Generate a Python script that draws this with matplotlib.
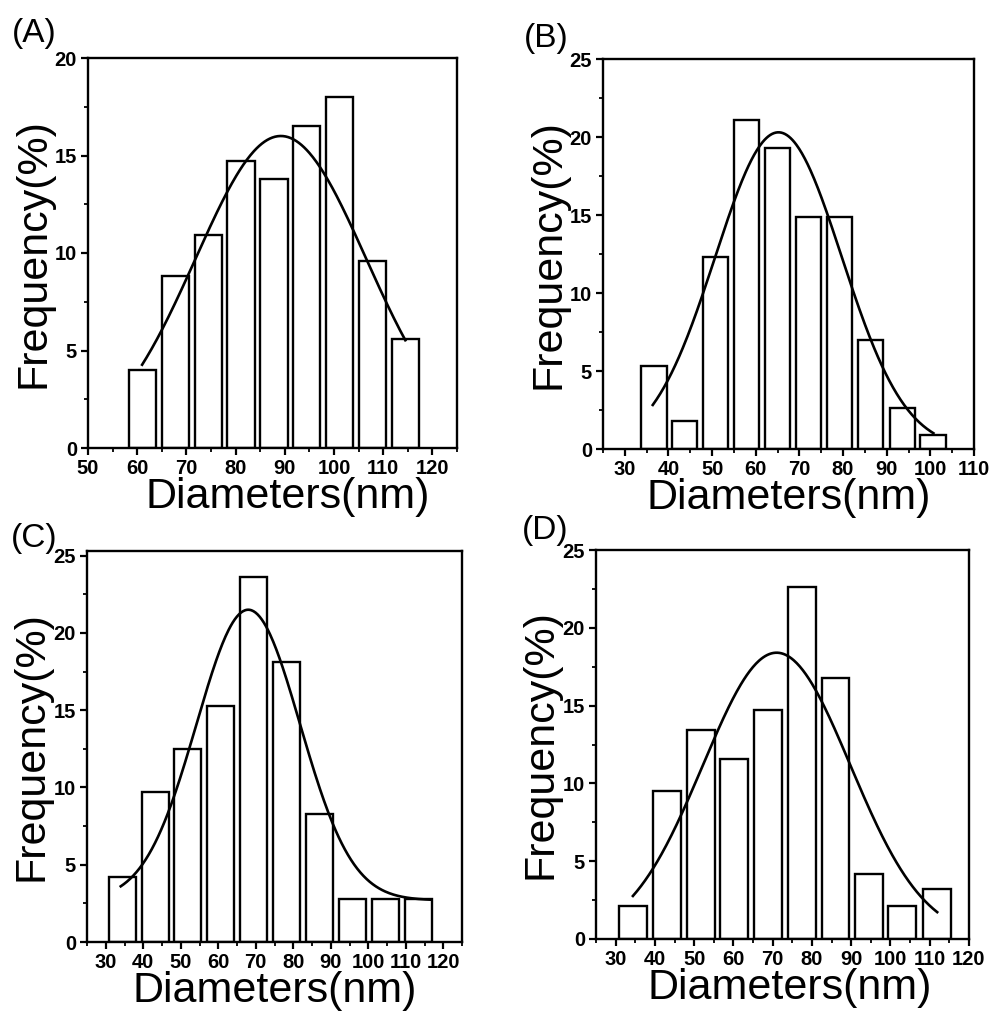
import numpy as np
import matplotlib
matplotlib.use("Agg")
import matplotlib.pyplot as plt
from matplotlib.ticker import MultipleLocator

plt.rcParams['font.family'] = ['Liberation Sans', 'DejaVu Sans']

# size distributions (bin centre in nm, frequency in %)
a_x = [61.0, 67.7, 74.4, 81.1, 87.8, 94.4, 101.1, 107.8, 114.5]
a_y = [4.0, 8.8, 10.9, 14.7, 13.8, 16.5, 18.0, 9.6, 5.6]

b_x = [36.6, 43.7, 50.8, 57.9, 65.0, 72.1, 79.2, 86.3, 93.6, 100.6]
b_y = [5.3, 1.8, 12.3, 21.1, 19.3, 14.9, 14.9, 7.0, 2.6, 0.9]

c_x = [34.4, 43.2, 51.9, 60.6, 69.5, 78.2, 87.0, 95.9, 104.6, 113.4]
c_y = [4.2, 9.7, 12.5, 15.3, 23.6, 18.1, 8.3, 2.8, 2.8, 2.8]

d_x = [34.4, 43.1, 51.7, 60.2, 68.7, 77.4, 86.0, 94.6, 103.0, 111.8]
d_y = [2.1, 9.5, 13.4, 11.6, 14.7, 22.6, 16.8, 4.2, 2.1, 3.2]

# gaussian fits: (centre, width, amplitude, baseline, x start, x end)
a_fit = (89.2, 17.35, 16.0, 0.0, 61.0, 114.5)
b_fit = (65.2, 14.5, 20.3, 0.0, 36.4, 100.7)
c_fit = (68.0, 13.8, 18.8, 2.7, 34.0, 116.7)
d_fit = (71.0, 18.8, 18.4, 0.0, 34.4, 111.9)

# tag, x, y, fit, bar width, xlim, ylim, axes box (px), tag position (px), xlabel x
panels = [
    ("(A)", a_x, a_y, a_fit, 5.5, (50, 125), (0, 20), [88, 457, 58, 448], (12, 42), 0.54),
    ("(B)", b_x, b_y, b_fit, 5.9, (25, 110), (0, 25), [603, 974, 59, 449], (524, 47), 0.5),
    ("(C)", c_x, c_y, c_fit, 7.2, (25, 125), (0, 25.3), [87, 462, 551, 942], (11, 547), 0.5),
    ("(D)", d_x, d_y, d_fit, 7.1, (25, 120), (0, 25), [596, 969, 550, 939], (522, 539), 0.52),
]

W, H = 995, 1015
fig = plt.figure(figsize=(W / 100, H / 100), dpi=100)

for tag, x, y, fit, bw, xlim, ylim, box, tagpos, lx in panels:
    l, r, t, b = box
    ax = fig.add_axes([l / W, 1 - b / H, (r - l) / W, (b - t) / H])
    ax.bar(x, y, width=bw, facecolor='white', edgecolor='black', linewidth=1.7)
    xc, w, amp, y0, x0, x1 = fit
    xs = np.linspace(x0, x1, 300)
    ax.plot(xs, y0 + amp * np.exp(-(xs - xc) ** 2 / (2 * w ** 2)), color='black', lw=1.9)

    ax.set_xlim(*xlim)
    ax.set_ylim(*ylim)
    ax.xaxis.set_major_locator(MultipleLocator(10))
    ax.xaxis.set_minor_locator(MultipleLocator(5))
    ax.yaxis.set_major_locator(MultipleLocator(5))
    ax.yaxis.set_minor_locator(MultipleLocator(2.5))
    ax.tick_params(which='major', direction='out', length=5, width=1.6, labelsize=14.5, pad=3)
    ax.tick_params(which='minor', direction='out', length=3, width=1.3)
    for lab in ax.get_xticklabels() + ax.get_yticklabels():
        lab.set_fontweight('bold')
    for s in ax.spines.values():
        s.set_linewidth(1.7)

    ax.set_xlabel('Diameters(nm)', fontsize=31, labelpad=0)
    ax.set_ylabel('Frequency(%)', fontsize=31, labelpad=1)
    ax.xaxis.set_label_coords(lx, -0.075)
    fig.text(tagpos[0] / W, 1 - tagpos[1] / H, tag, fontsize=24, ha='left', va='baseline')

fig.savefig('out.png', dpi=100)
